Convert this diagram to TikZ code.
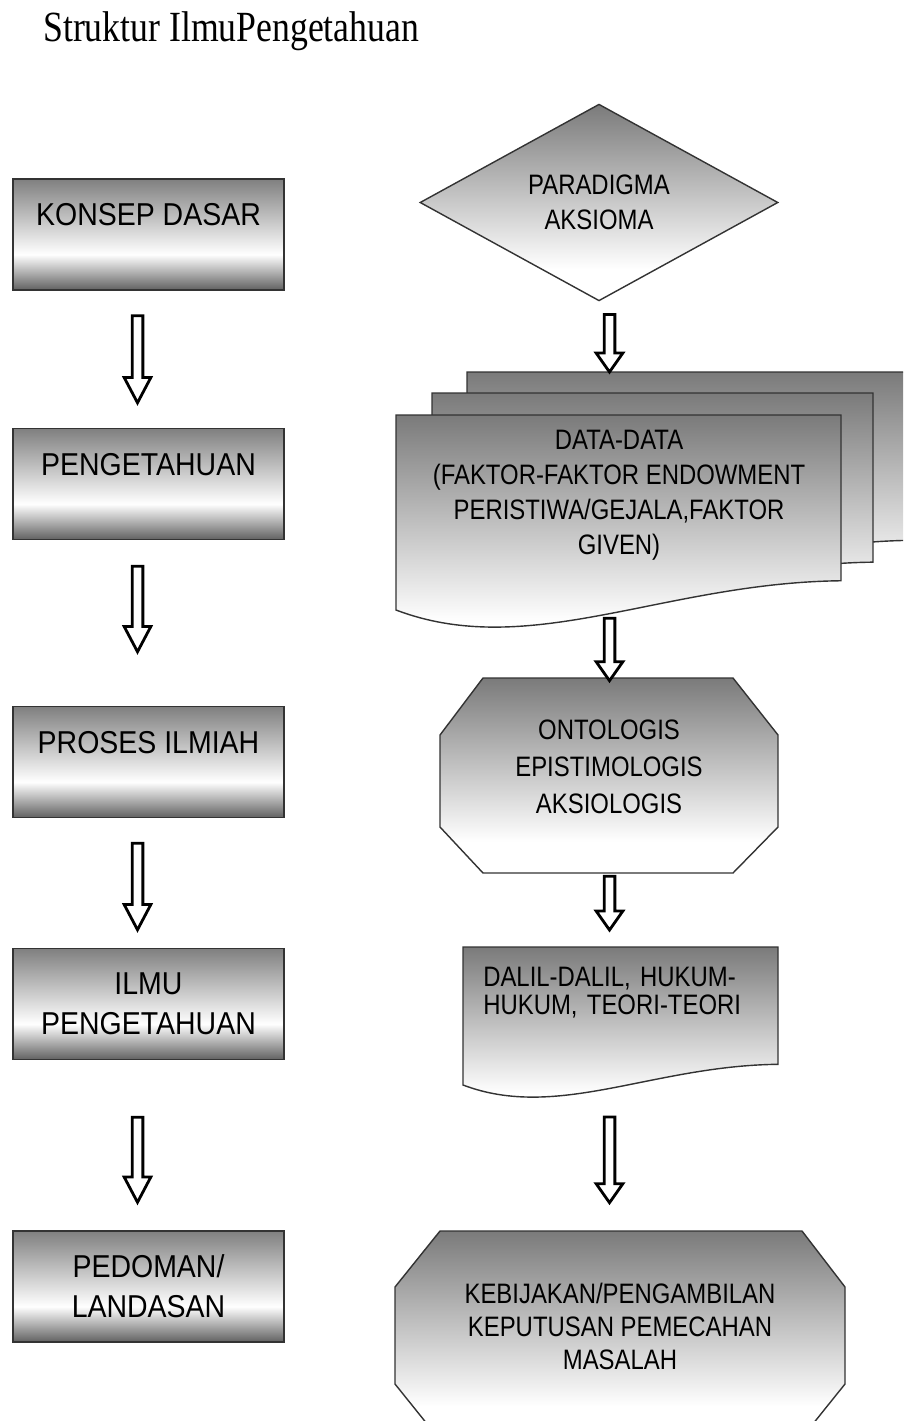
\documentclass[tikz,border=0pt]{standalone}
\usepackage{fontspec}
\setmainfont{Liberation Sans}
\newfontfamily\titlefont{Liberation Serif}[FakeStretch=0.83]
\newfontfamily\boxfont{Liberation Sans}[FakeStretch=0.9]
\newfontfamily\flowfont{Liberation Sans}[FakeStretch=0.85]
\usepackage{tikz}
\usetikzlibrary{shapes.geometric,calc}
\frenchspacing

\pgfdeclareverticalshading{leftshade}{100bp}{color(0bp)=(black!62); color(25bp)=(black!62); color(41bp)=(white); color(75bp)=(black!50); color(100bp)=(black!50)}
\pgfdeclareverticalshading{rightshade}{100bp}{color(0bp)=(white); color(33bp)=(white); color(75bp)=(black!52); color(100bp)=(black!52)}

\tikzset{
  konsep/.style={draw=black!80, line width=1pt, shading=leftshade, minimum width=6.775cm, minimum height=2.775cm, inner sep=0pt, align=center, font=\boxfont\fontsize{22.5pt}{28.5pt}\selectfont},
  flowtext/.style={inner sep=0pt, align=center, font=\flowfont\fontsize{20pt}{25pt}\selectfont},
  sheet/.style={draw=black!80, line width=1pt, shading=rightshade},
  hollow/.style={draw=black, fill=white, line width=2pt, line join=miter,
    to path={let \p1=(\tikztostart), \p2=(\tikztotarget) in
      (\x1-3.8pt,\y1) -- (\x1-3.8pt,\y2+#1) -- (\x1-9.5pt,\y2+#1) -- (\x1,\y2)
      -- (\x1+9.5pt,\y2+#1) -- (\x1+3.8pt,\y2+#1) -- (\x1+3.8pt,\y1) -- cycle}},
  hollow/.default=18pt
}

\newcommand{\docsheet}[4]{\path[sheet] (#1,#2) -- ++(#3,0) -- ++(0,{0.85*#4}) .. controls ({#1+0.6*#3},{#2+0.86*#4}) and ({#1+0.3*#3},{#2+1.26*#4}) .. (#1,{#2+#4}) -- cycle;}

\begin{document}
\begin{tikzpicture}[x=0.025cm, y=-0.025cm]

        \useasboundingbox (0,0) rectangle (903,1421);
        \clip (0,0) rectangle (903,1421);

        % title
        \node[anchor=base west, inner sep=0pt, font=\titlefont\fontsize{30.6pt}{34pt}\selectfont] (title) at (43,41) {Struktur IlmuPengetahuan};

        \coordinate (lx) at (137.5,0);
        \coordinate (rx) at (609.5,0);

        % left column
        \node[konsep] (k1) at (148.5,234.5) {KONSEP DASAR\\~};
        \node[konsep] (k2) at (148.5,484) {PENGETAHUAN\\~};
        \node[konsep] (k3) at (148.5,762) {PROSES ILMIAH\\~};
        \node[konsep] (k4) at (148.5,1004) {ILMU\\PENGETAHUAN};
        \node[konsep] (k5) at (148.5,1286.5) {PEDOMAN/\\LANDASAN};

        \draw[hollow] ($(k1.south -| lx)+(0,25)$) to ($(k2.north -| lx)+(0,-25)$);
        \draw[hollow] ($(k2.south -| lx)+(0,26)$) to ($(k3.north -| lx)+(0,-54)$);
        \draw[hollow] ($(k3.south -| lx)+(0,25)$) to ($(k4.north -| lx)+(0,-18)$);
        \draw[hollow] ($(k4.south -| lx)+(0,57)$) to ($(k5.north -| lx)+(0,-28)$);

        % right column
        \node[diamond, draw=black!80, line width=1pt, shading=rightshade, minimum width=8.95cm, minimum height=4.875cm, flowtext] (dia) at (599,202.5) {PARADIGMA\\AKSIOMA};

        \docsheet{467}{372}{445}{198}
        \docsheet{432}{393}{441}{199}
        \docsheet{396}{415}{445}{195}
        \coordinate (stacktop) at (609.5,372);
        \node[flowtext, minimum width=11.125cm, minimum height=4cm] (data) at (619,495) {DATA-DATA\\(FAKTOR-FAKTOR ENDOWMENT\\PERISTIWA/GEJALA,FAKTOR\\GIVEN)};

        \path[sheet] (483,678) -- (733,678) -- (778,735) -- (778,827) -- (733,873) -- (483,873) -- (440,827) -- (440,735) -- cycle;
        \node[flowtext, font=\flowfont\fontsize{20pt}{26.3pt}\selectfont, minimum width=8.45cm, minimum height=4.875cm] (onto) at (609,775.5) {ONTOLOGIS\\EPISTIMOLOGIS\\AKSIOLOGIS\\[-14pt]~};

        \docsheet{463}{947}{315}{138}
        \node[anchor=north west, inner xsep=0.5cm, inner ysep=0.5cm, text width=6.875cm, align=left, font=\flowfont\fontsize{20pt}{20pt}\selectfont] (dalil) at (463,947) {DALIL-DALIL, HUKUM-\\HUKUM, TEORI-TEORI};

        \path[sheet] (440,1231) -- (802,1231) -- (845,1287) -- (845,1384) -- (800,1440) -- (440,1440) -- (395,1384) -- (395,1287) -- cycle;
        \node[flowtext, font=\flowfont\fontsize{20pt}{23.5pt}\selectfont, minimum width=11.25cm, minimum height=4.75cm] (keb) at (620,1326) {KEBIJAKAN/PENGAMBILAN\\KEPUTUSAN PEMECAHAN\\MASALAH};

        \draw[hollow=13.5pt] ($(dia.south -| rx)+(0,13)$) to (stacktop);
        \draw[hollow=13.5pt] ($(data.south -| rx)+(0,43)$) to ($(onto.north -| rx)+(0,3)$);
        \draw[hollow=13.5pt] ($(onto.south -| rx)+(0,3)$) to ($(dalil.north -| rx)+(0,-17)$);
        \draw[hollow=13.5pt] ($(dalil.north -| rx)+(0,170)$) to ($(keb.north -| rx)+(0,-28)$);

\end{tikzpicture}
\end{document}
